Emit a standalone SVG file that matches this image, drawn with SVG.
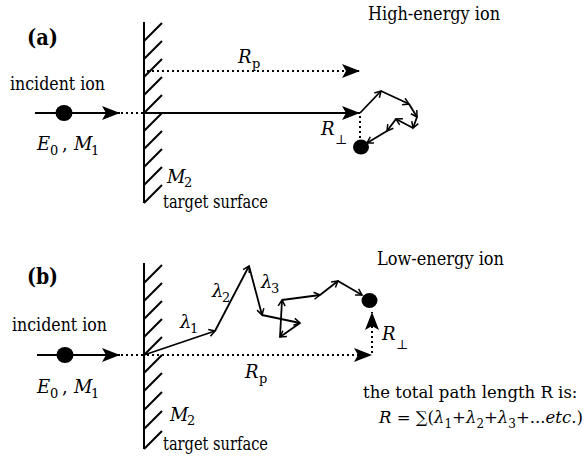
<svg xmlns="http://www.w3.org/2000/svg" width="584" height="459" viewBox="0 0 584 459">
<style>
text{font-family:"DejaVu Serif","Liberation Serif",serif;font-size:18px;fill:#000}
.it{font-style:italic}
.sub{font-size:13px}
.fsub{font-size:12px}
.small{font-size:16.5px}
.bold{font-weight:bold;font-size:22px}
.wall{stroke:#000;stroke-width:2;fill:none}
.ln{stroke:#000;stroke-width:2;fill:none}
.dot{stroke:#000;stroke-width:2;fill:none;stroke-dasharray:2 3}
.walk{stroke:#000;stroke-width:1.8;fill:none;marker-end:url(#small);stroke-linejoin:round}
</style>
<defs>
<marker id="big" viewBox="0 0 18 14" refX="18" refY="7" markerWidth="18" markerHeight="14" markerUnits="userSpaceOnUse" orient="auto">
<path d="M0,0 L18,7 L0,14 L4,7 Z" fill="#000"/>
</marker>
<marker id="small" viewBox="-1 -1 9 9" refX="6" refY="3.5" markerWidth="9" markerHeight="9" markerUnits="userSpaceOnUse" orient="auto">
<path d="M0,0 L6,3.5 L0,7" fill="none" stroke="#000" stroke-width="1.5"/>
</marker>
</defs>

<g id="panel-a-label"><text class="bold" x="27" y="45" textLength="31" lengthAdjust="spacingAndGlyphs">(a)</text></g>
<g id="title-a"><text x="368" y="20" textLength="132" lengthAdjust="spacingAndGlyphs">High-energy ion</text></g>

<g id="wall-a">
<path class="wall" d="M144,22 V203"/>
<path class="wall" stroke-width="1.8" d="M144,41 L162,23 M144,59 L162,41 M144,77 L162,59 M144,95 L162,77 M144,113 L162,95 M144,131 L162,113 M144,149 L162,131 M144,167 L162,149 M144,185 L162,167 M144,203 L162,185"/>
<text class="it" x="167" y="183">M</text><text class="sub" x="184" y="187">2</text>
<text x="163" y="208" textLength="105" lengthAdjust="spacingAndGlyphs">target surface</text>
</g>

<g id="ion-a">
<text x="10" y="90" textLength="95" lengthAdjust="spacingAndGlyphs">incident ion</text>
<ellipse cx="64" cy="113" rx="8.5" ry="8"/>
<text class="it" x="37" y="150">E</text><text class="sub" x="50" y="155">0</text>
<text x="62" y="150">,</text>
<text class="it" x="74" y="150">M</text><text class="sub" x="91" y="155">1</text>
</g>

<g id="end-a">
<ellipse cx="361" cy="147" rx="8" ry="7.5"/>
<text class="it" x="321" y="135">R</text><text class="sub" x="335" y="144">⊥</text>
<text class="it" x="238" y="63">R</text><text class="sub" x="252" y="68">p</text>
</g>

<g id="connectors-a">
<path class="ln" d="M35,113 H120" marker-end="url(#big)"/>
<path class="dot" d="M121,113 H144"/>
<path class="ln" d="M144,113 H360" marker-end="url(#big)"/>
<path class="dot" d="M147,71 H360" marker-end="url(#big)"/>
<path class="dot" d="M360,116 V140"/>
<path class="walk" d="M360,113 L381,91"/>
<path class="walk" d="M381,91 L409,104"/>
<path class="walk" d="M409,104 L417,117"/>
<path class="walk" d="M417,117 L413,128"/>
<path class="walk" d="M413,128 L396,119"/>
<path class="walk" d="M396,119 L387,131"/>
<path class="walk" d="M387,131 L367,143"/>
</g>

<g id="panel-b-label"><text class="bold" x="27" y="284" textLength="31" lengthAdjust="spacingAndGlyphs">(b)</text></g>
<g id="title-b"><text x="377" y="265" textLength="127" lengthAdjust="spacingAndGlyphs">Low-energy ion</text></g>

<g id="wall-b">
<path class="wall" d="M144,263 V449"/>
<path class="wall" stroke-width="1.8" d="M144,283 L162,265 M144,301 L162,283 M144,319 L162,301 M144,337 L162,319 M144,355 L162,337 M144,373 L162,355 M144,391 L162,373 M144,410 L162,392 M144,429 L162,411 M144,449 L162,431"/>
<text class="it" x="170" y="421">M</text><text class="sub" x="187" y="425">2</text>
<text x="163" y="450" textLength="105" lengthAdjust="spacingAndGlyphs">target surface</text>
</g>

<g id="ion-b">
<text x="12" y="331" textLength="95" lengthAdjust="spacingAndGlyphs">incident ion</text>
<ellipse cx="65" cy="355" rx="8.5" ry="8"/>
<text class="it" x="37" y="393">E</text><text class="sub" x="50" y="398">0</text>
<text x="62" y="393">,</text>
<text class="it" x="74" y="393">M</text><text class="sub" x="91" y="398">1</text>
</g>

<g id="end-b">
<ellipse cx="369.5" cy="300.5" rx="8" ry="7.5"/>
<text class="it" x="382" y="340">R</text><text class="sub" x="396" y="349">⊥</text>
<text class="it" x="245" y="378">R</text><text class="sub" x="259" y="383">p</text>
<text class="it" x="180" y="328">λ</text><text class="sub" x="190" y="333">1</text>
<text class="it" x="212" y="297">λ</text><text class="sub" x="222" y="302">2</text>
<text class="it" x="261" y="288">λ</text><text class="sub" x="271" y="293">3</text>
</g>

<g id="formula">
<text class="small" x="363" y="398">the total path length R is:</text>
<text class="small" x="379" y="423"><tspan class="it">R</tspan> = ∑(<tspan class="it">λ</tspan><tspan class="fsub" dy="5">1</tspan><tspan dy="-5">+</tspan><tspan class="it">λ</tspan><tspan class="fsub" dy="5">2</tspan><tspan dy="-5">+</tspan><tspan class="it">λ</tspan><tspan class="fsub" dy="5">3</tspan><tspan dy="-5">+...</tspan><tspan class="it">etc.</tspan>)</text>
</g>

<g id="connectors-b">
<path class="ln" d="M37,355 H120" marker-end="url(#big)"/>
<path class="dot" d="M121,355 H144"/>
<path class="dot" d="M147,355 H372" marker-end="url(#big)"/>
<path class="dot" d="M372,353 V312" marker-end="url(#big)"/>
<path class="walk" d="M144,355 L215,331"/>
<path class="walk" d="M215,331 L249,266"/>
<path class="walk" d="M249,266 L262,315"/>
<path class="walk" d="M262,315 L300,323"/>
<path class="walk" d="M300,323 L280,337"/>
<path class="walk" d="M280,337 L282,300"/>
<path class="walk" d="M282,300 L320,295"/>
<path class="walk" d="M320,295 L338,281"/>
<path class="walk" d="M338,281 L362,295"/>
</g>
</svg>
